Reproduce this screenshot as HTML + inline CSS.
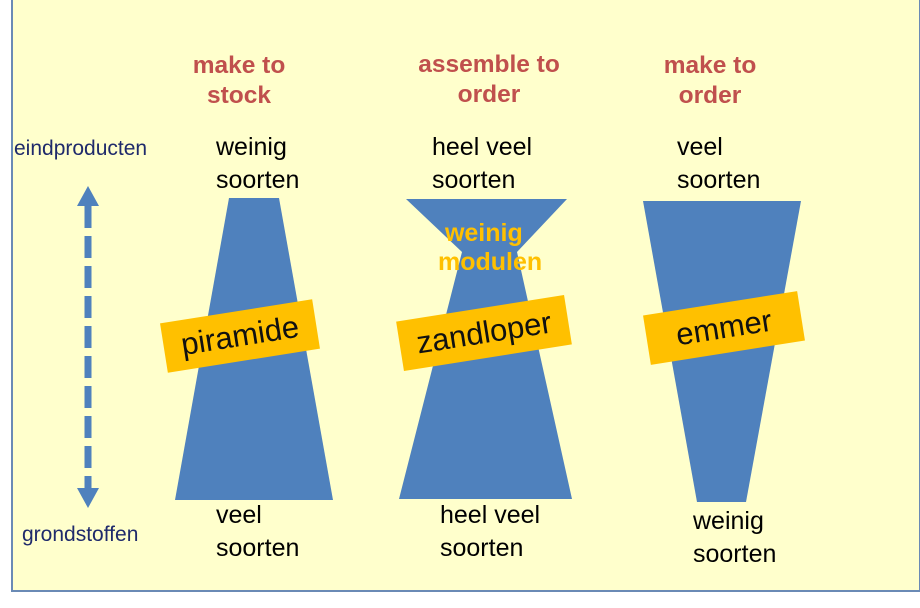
<!DOCTYPE html>
<html><head><meta charset="utf-8"><style>
body{margin:0;width:920px;height:608px;background:#fff;position:relative;overflow:hidden;font-family:"Liberation Sans",sans-serif}
#bg{position:absolute;left:11px;top:-2px;width:906px;height:592px;background:#ffffcc;border:2px solid #6a8ab5;border-top:none}
.t{position:absolute;font-size:25px;line-height:33px;color:#000}
.r{position:absolute;font-size:24.5px;line-height:30px;color:#c0504d;font-weight:bold;text-align:center;width:220px}
.n{position:absolute;font-size:21px;color:#1f2a6b}
.lab{position:absolute;background:#ffc000;font-size:31px;text-align:center;line-height:50px;height:50px;color:#111}
</style></head><body>
<div id="bg"></div>
<svg width="920" height="608" style="position:absolute;left:0;top:0">
<polygon points="229,198 279,198 333,500 175,500" fill="#4f81bd"/>
<polygon points="406,199 567,199 517,252 572,499 399,499 462,252" fill="#4f81bd"/>
<polygon points="643,201 801,201 746,502 697,502" fill="#4f81bd"/>
<polygon points="88,186 99,206 77,206" fill="#4f81bd"/>
<polygon points="88,508 99,488 77,488" fill="#4f81bd"/>
<line x1="88" y1="206" x2="88" y2="488" stroke="#4f81bd" stroke-width="7" stroke-dasharray="22,8"/>
</svg>
<div class="n" style="left:14px;top:137px">eindproducten</div>
<div class="n" style="left:22px;top:523px">grondstoffen</div>
<div class="r" style="left:129px;top:51px">make to<br>stock</div>
<div class="r" style="left:379px;top:50px">assemble to<br>order</div>
<div class="r" style="left:600px;top:51px">make to<br>order</div>
<div class="t" style="left:216px;top:131px">weinig<br>soorten</div>
<div class="t" style="left:432px;top:131px">heel veel<br>soorten</div>
<div class="t" style="left:677px;top:131px">veel<br>soorten</div>
<div class="t" style="left:216px;top:499px">veel<br>soorten</div>
<div class="t" style="left:440px;top:499px">heel veel<br>soorten</div>
<div class="t" style="left:693px;top:505px">weinig<br>soorten</div>
<div style="position:absolute;left:438px;top:219px;font-size:25px;line-height:29px;font-weight:bold;color:#ffc000">&nbsp;weinig<br>modulen</div>
<div class="lab" style="left:163px;top:311px;width:154px;transform:rotate(-9deg)">piramide</div>
<div class="lab" style="left:399px;top:308px;width:170px;transform:rotate(-9deg)">zandloper</div>
<div class="lab" style="left:646px;top:303px;width:156px;transform:rotate(-9deg)">emmer</div>
</body></html>
